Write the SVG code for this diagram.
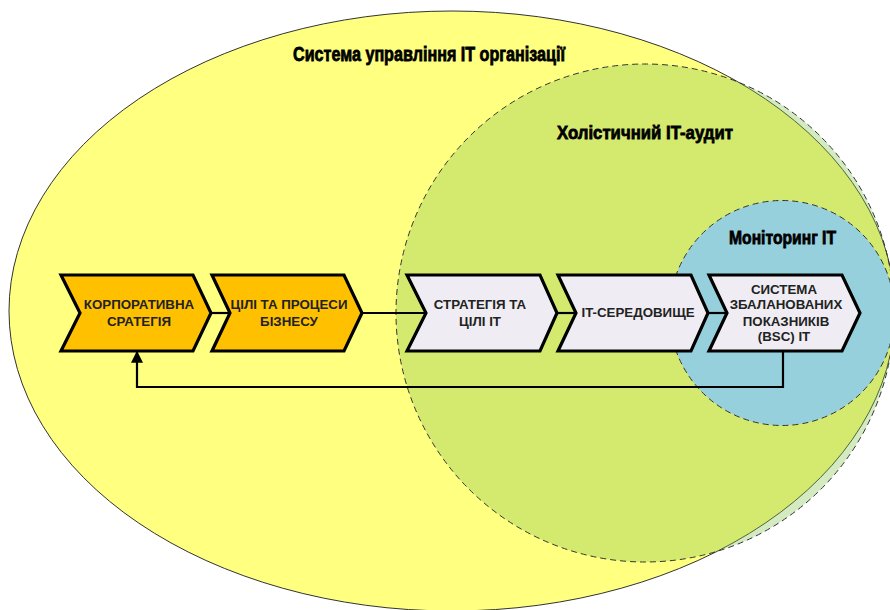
<svg xmlns="http://www.w3.org/2000/svg" width="890" height="610" viewBox="0 0 890 610">
  <defs>
    <style>
      .chev { stroke: #000; stroke-width: 3.2; stroke-linejoin: miter; }
      .biz { fill: #FFC000; }
      .it { fill: #EFEDF3; }
      .ctext { font-family: "Liberation Sans", Arial, sans-serif; font-weight: bold; font-size: 13.3px; fill: #222; text-anchor: middle; }
      .head { font-family: "Liberation Sans", Arial, sans-serif; font-weight: bold; fill: #000; stroke: #000; stroke-width: 0.8; }
      .conn { stroke: #000; stroke-width: 2.2; fill: none; }
    </style>
    <marker id="arr" viewBox="0 0 10 10" refX="9" refY="5" markerWidth="12" markerHeight="12" markerUnits="userSpaceOnUse" orient="auto">
      <path d="M0,0 L10,5 L0,10 Z" fill="#000"/>
    </marker>
  </defs>

  <g id="zone-it-governance">
    <ellipse cx="452" cy="311" rx="443" ry="300" fill="#FFFF80" stroke="#333" stroke-width="1"/>
    <text class="head" x="293" y="61" font-size="20" textLength="272" lengthAdjust="spacingAndGlyphs">Система управління IT організації</text>
  </g>

  <g id="zone-holistic-audit">
    <circle cx="645" cy="313" r="249" fill="#83C24D" fill-opacity="0.35" stroke="#333" stroke-width="1" stroke-dasharray="6 4"/>
    <text class="head" x="557" y="139" font-size="19" textLength="176" lengthAdjust="spacingAndGlyphs">Холістичний IT-аудит</text>
  </g>

  <g id="zone-monitoring">
    <circle cx="782" cy="313" r="112.5" fill="#96D0DC" stroke="#333" stroke-width="1" stroke-dasharray="6 4"/>
    <text class="head" x="729" y="244" font-size="19" textLength="107" lengthAdjust="spacingAndGlyphs">Моніторинг IT</text>
  </g>

  <g id="connectors">
    <line class="conn" x1="210" y1="313" x2="230" y2="313"/>
    <line class="conn" x1="361" y1="313" x2="426" y2="313"/>
    <line class="conn" x1="556" y1="313" x2="576" y2="313"/>
    <line class="conn" x1="707" y1="313" x2="727" y2="313"/>
    <polyline class="conn" points="783,351 783,387 137,387 137,352" marker-end="url(#arr)"/>
  </g>

  <g id="node-corporate-strategy">
    <polygon class="chev biz" points="61,275 193,275 211,313 193,351 61,351 80,313"/>
    <text class="ctext" x="139" y="309">КОРПОРАТИВНА</text>
    <text class="ctext" x="139" y="326">СРАТЕГІЯ</text>
  </g>

  <g id="node-business-goals">
    <polygon class="chev biz" points="212,275 344,275 362,313 344,351 212,351 230,313"/>
    <text class="ctext" x="289" y="309">ЦІЛІ ТА ПРОЦЕСИ</text>
    <text class="ctext" x="289" y="326">БІЗНЕСУ</text>
  </g>

  <g id="node-it-strategy">
    <polygon class="chev it" points="407,275 540,275 557,313 540,351 407,351 426,313"/>
    <text class="ctext" x="480" y="309">СТРАТЕГІЯ ТА</text>
    <text class="ctext" x="480" y="326">ЦІЛІ IT</text>
  </g>

  <g id="node-it-environment">
    <polygon class="chev it" points="558,275 691,275 708,313 691,351 558,351 576,313"/>
    <text class="ctext" x="638" y="317">IT-СЕРЕДОВИЩЕ</text>
  </g>

  <g id="node-bsc">
    <polygon class="chev it" points="709,275 842,275 860,313 842,351 709,351 727,313"/>
    <text class="ctext" x="784" y="293.5">СИСТЕМА</text>
    <text class="ctext" x="786" y="309">ЗБАЛАНОВАНИХ</text>
    <text class="ctext" x="786" y="325.5">ПОКАЗНИКІВ</text>
    <text class="ctext" x="784" y="341">(BSC) IT</text>
  </g>
</svg>
